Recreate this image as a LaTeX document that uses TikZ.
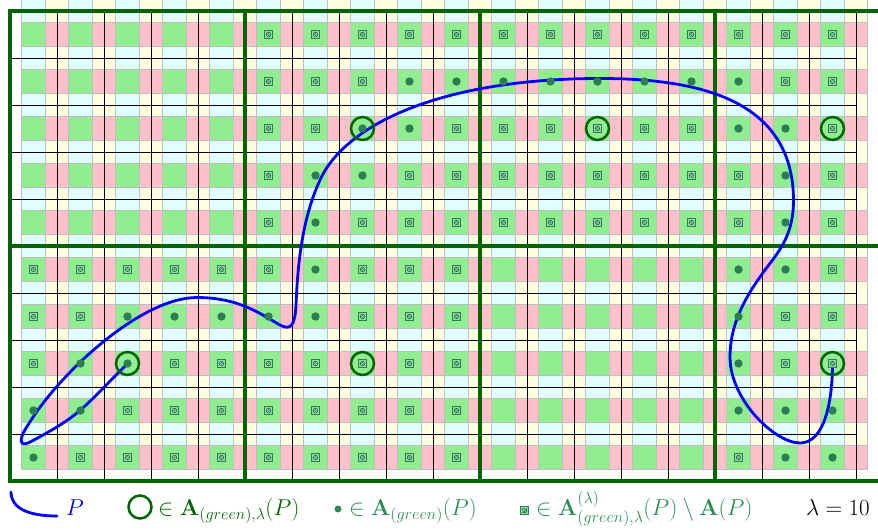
\documentclass[tikz,border=0pt]{standalone}
\usepackage{fix-cm}
\usepackage{amsmath,amssymb}
\definecolor{tgreen}{RGB}{144,238,144}
\definecolor{tpink}{RGB}{255,192,203}
\definecolor{tcyan}{RGB}{224,255,255}
\definecolor{tyellow}{RGB}{255,255,224}
\definecolor{tborder}{RGB}{190,190,190}
\definecolor{fgreen}{RGB}{0,100,0}
\definecolor{mk}{RGB}{46,125,84}
\definecolor{mklight}{RGB}{150,215,160}
\definecolor{legtxt}{RGB}{46,139,87}
\definecolor{pblue}{RGB}{0,0,255}
\newcommand\lgfont{\fontsize{23}{28}\selectfont}
\newcommand\mkE[2]{}
\newcommand\mkD[2]{\pic at ({33.5+47*#1},{34.5+47*#2}) {dotmark};}
\newcommand\mkX[2]{\pic at ({33.5+47*#1},{34.5+47*#2}) {boxmark};}
\tikzset{
  cellb/.style={draw=tborder, line width=0.8pt},
  blk/.style={draw=black, line width=0.85pt},
  fln/.style={draw=fgreen, line width=3.1pt},
  pcurve/.style={draw=pblue, line width=2.8pt, line cap=round, line join=round},
  ring/.style={draw=fgreen, line width=2.5pt, circle, minimum size=23pt, inner sep=0pt},
  legtext/.style={anchor=base west, inner sep=0pt, font=\lgfont},
  dotmark/.pic={\fill[mk] (0,0) circle (4.2pt);},
  boxmark/.pic={\fill[mk] (-4.5,-4.5) rectangle (4.5,4.5);
                \draw[mklight, line width=0.6pt] (-2.9,-2.9) rectangle (2.9,2.9);
                \draw[mklight, line width=0.7pt] (-2.9,-2.9) -- (2.9,2.9) (-2.9,2.9) -- (2.9,-2.9);}
}
\begin{document}
\begin{tikzpicture}[x=1pt,y=-1pt]
\useasboundingbox (0,0) rectangle (878,531);
% pastel tiling
\foreach \i in {0,...,17}{
  \foreach \j in {0,...,9}{
    \pgfmathsetmacro\xa{21.75+47*\i}
    \pgfmathsetmacro\ya{-0.75+47*\j}
    \filldraw[cellb, fill=tcyan] (\xa,\ya) rectangle ++(23.5,23.5);
    \filldraw[cellb, fill=tyellow] ({\xa+23.5},\ya) rectangle ++(23.5,23.5);
    \filldraw[cellb, fill=tgreen] (\xa,{\ya+23.5}) rectangle ++(23.5,23.5);
    \filldraw[cellb, fill=tpink] ({\xa+23.5},{\ya+23.5}) rectangle ++(23.5,23.5);
  }
}
% black grid
\foreach \k in {1,...,18} \draw[blk] ({10+47*\k},11) -- ({10+47*\k},481);
\foreach \k in {1,...,9} \draw[blk] (10,{11+47*\k}) -- (856,{11+47*\k});
% green frame
\draw[fln, line join=miter] (878,11) -- (10,11) -- (10,481) -- (878,481);
\foreach \x in {245,480,715} \draw[fln] (\x,11) -- (\x,481);
\draw[fln] (10,246) -- (878,246);
% ring centres
\coordinate (c27) at (127.5,363.5);
\coordinate (c77) at (362.5,363.5);
\coordinate (c177) at (832.5,363.5);
\coordinate (c72) at (362.5,128.5);
\coordinate (c122) at (597.5,128.5);
\coordinate (c172) at (832.5,128.5);
% curve P
\draw[pcurve] (c27) .. controls (110,381) and (92,400) .. (80,410.5)
  .. controls (65,423.5) and (40,437) .. (28,443)
  .. controls (18,447) and (20,436) .. (28,425)
  .. controls (58,375) and (140,297.5) .. (197,297.5)
  .. controls (240,297.5) and (262,315) .. (280,325)
  .. controls (291,331) and (295,325) .. (296,305)
  .. controls (298,255) and (304,215) .. (320,180)
  .. controls (345,125) and (440,78.5) .. (600,78.5)
  .. controls (700,78.5) and (793,100) .. (793.5,200)
  .. controls (793.5,240) and (775,255) .. (760,277)
  .. controls (740,305) and (730,330) .. (730,357)
  .. controls (730,400) and (775,443) .. (800,443)
  .. controls (825,443) and (832.5,400) .. (c177);
% markers
\foreach \t [count=\c from 0] in {E,E,E,E,E,X,X,X,X,X,X,X,X,X,X,X,X,X} {\csname mk\t\endcsname{\c}{0}}
\foreach \t [count=\c from 0] in {E,E,E,E,E,X,X,X,D,D,D,D,D,D,D,D,X,X} {\csname mk\t\endcsname{\c}{1}}
\foreach \t [count=\c from 0] in {E,E,E,E,E,X,X,D,D,X,X,X,X,X,X,D,D,X} {\csname mk\t\endcsname{\c}{2}}
\foreach \t [count=\c from 0] in {E,E,E,E,E,X,D,D,X,X,X,X,X,X,X,X,D,X} {\csname mk\t\endcsname{\c}{3}}
\foreach \t [count=\c from 0] in {E,E,E,E,E,X,D,X,X,X,X,X,X,X,X,X,D,X} {\csname mk\t\endcsname{\c}{4}}
\foreach \t [count=\c from 0] in {X,X,X,X,X,X,D,X,X,X,E,E,E,E,E,D,D,X} {\csname mk\t\endcsname{\c}{5}}
\foreach \t [count=\c from 0] in {X,X,D,D,D,D,D,X,X,X,E,E,E,E,E,D,X,X} {\csname mk\t\endcsname{\c}{6}}
\foreach \t [count=\c from 0] in {X,D,D,X,X,X,X,X,X,X,E,E,E,E,E,D,X,X} {\csname mk\t\endcsname{\c}{7}}
\foreach \t [count=\c from 0] in {D,D,X,X,X,X,X,X,X,X,E,E,E,E,E,D,D,D} {\csname mk\t\endcsname{\c}{8}}
\foreach \t [count=\c from 0] in {D,X,X,X,X,X,X,X,X,X,E,E,E,E,E,X,D,D} {\csname mk\t\endcsname{\c}{9}}
% rings
\node[ring] (r27) at (c27) {};
\node[ring] (r77) at (c77) {};
\node[ring] (r177) at (c177) {};
\node[ring] (r72) at (c72) {};
\node[ring] (r122) at (c122) {};
\node[ring] (r172) at (c172) {};
% legend
\coordinate (la) at (11,492);
\coordinate (lb) at (57,516);
\draw[pcurve] (la) .. controls (11,508) and (28,516) .. (lb);
\node[legtext, text=pblue] (lp) at (66,515) {$P$};
\node[ring] (lr) at (140,507) {};
\node[legtext, text=fgreen] (l1) at (158,515) {$\in \mathbf{A}_{(green),\lambda}(P)$};
\node[circle, fill=legtxt, inner sep=0pt, minimum size=7pt] (ld) at (338,509) {};
\node[legtext, text=legtxt] (l2) at (349,515) {$\in \mathbf{A}_{(green)}(P)$};
\pic at (524,510) {boxmark};
\node[legtext, text=legtxt] (l3) at (536,515) {$\in \mathbf{A}^{(\lambda)}_{(green),\lambda}(P) \setminus \mathbf{A}(P)$};
\node[legtext, text=black] (l4) at (806,515) {$\lambda = 10$};
\end{tikzpicture}
\end{document}
